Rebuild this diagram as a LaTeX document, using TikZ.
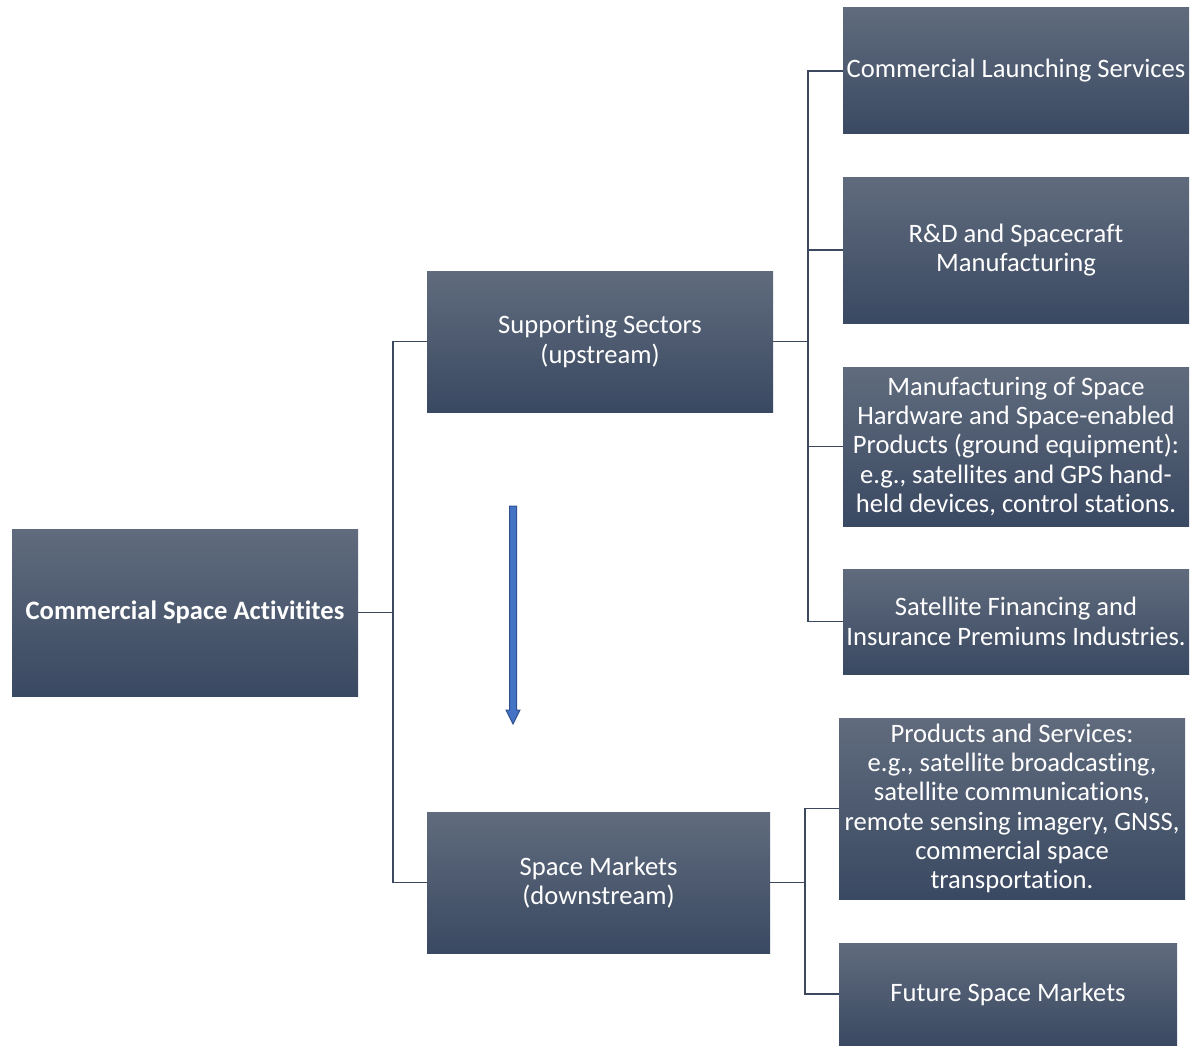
\documentclass[tikz,border=0pt]{standalone}
\usepackage{fontspec}
\setmainfont{Carlito}[Ligatures=NoCommon]
\usetikzlibrary{calc}
\definecolor{boxtop}{RGB}{96,107,125}
\definecolor{boxbot}{RGB}{58,73,98}
\definecolor{linec}{RGB}{60,72,94}
\definecolor{arrfill}{RGB}{68,114,196}
\definecolor{arrdraw}{RGB}{47,82,143}
\begin{document}
\begin{tikzpicture}[x=1pt,y=-1pt,
  box/.style={shape=rectangle,inner sep=0pt,top color=boxtop,bottom color=boxbot,
    text=white,align=center,font=\fontsize{26.6}{29.3}\selectfont},
  conn/.style={draw=linec,line width=1.3pt}]
\useasboundingbox (0,0) rectangle (1202,1046);
\node[box,minimum width=346pt,minimum height=167pt,font=\bfseries\fontsize{26.6}{29.3}\selectfont] (csa) at (185,612.5) {Commercial Space Activitites};
\node[box,minimum width=346pt,minimum height=141pt] (sup) at (600,341.5) {Supporting Sectors\\(upstream)};
\node[box,minimum width=343pt,minimum height=141pt] (mkt) at (598.5,882.5) {Space Markets\\(downstream)};
\node[box,minimum width=346pt,minimum height=126pt] (launch) at (1016,71) {Commercial Launching Services};
\node[box,minimum width=346pt,minimum height=146pt] (rd) at (1016,250) {R\&D and Spacecraft\\Manufacturing};
\node[box,minimum width=346pt,minimum height=159pt] (hw) at (1016,446.5) {Manufacturing of Space\\Hardware and Space-enabled\\Products (ground equipment):\\e.g., satellites and GPS hand-\\held devices, control stations.};
\node[box,minimum width=346pt,minimum height=105pt] (fin) at (1016,621.5) {Satellite Financing and\\Insurance Premiums Industries.};
\node[box,minimum width=346pt,minimum height=181pt] (prod) at (1012,808.5) {Products and Services:\\e.g., satellite broadcasting,\\satellite communications,\\remote sensing imagery, GNSS,\\commercial space\\transportation.};
\node[box,minimum width=338pt,minimum height=102pt] (fut) at (1008,994) {Future Space Markets};
% connectors
\coordinate (j1) at (393,0);
\coordinate (j2) at (808,0);
\coordinate (j3) at (805,0);
\draw[conn] (csa.east) -- (csa.east -| j1);
\draw[conn] (sup.west) -| (j1 |- mkt.west) -- (mkt.west);
\draw[conn] (sup.east) -- (sup.east -| j2);
\draw[conn] (launch.west) -| (j2 |- fin.west) -- (fin.west);
\draw[conn] (rd.west) -- (rd.west -| j2);
\draw[conn] (hw.west) -- (hw.west -| j2);
\draw[conn] (mkt.east) -- (mkt.east -| j3);
\draw[conn] (prod.west) -| (j3 |- fut.west) -- (fut.west);
% block arrow
\coordinate (atop) at (513,506);
\draw[fill=arrfill,draw=arrdraw,line width=1pt]
  ($(atop)+(-3.5,0)$) -- ++(7,0) -- ++(0,204) -- ++(3.5,0) -- (513,724) -- ++(-7,-14) -- ++(3.5,0) -- cycle;
\end{tikzpicture}
\end{document}
